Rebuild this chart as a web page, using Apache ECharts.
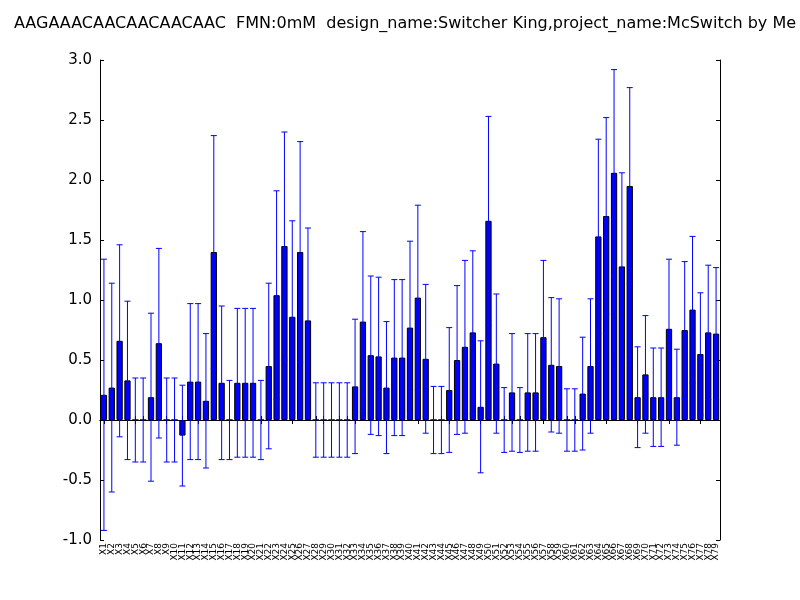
<!DOCTYPE html>
<html><head><meta charset="utf-8">
<script src="https://cdn.jsdelivr.net/npm/echarts@6/dist/echarts.min.js"></script>
<style>body{margin:0;background:#fff;overflow:hidden}#c{width:800px;height:600px}</style>
</head><body><div id="c"></div>
<script>
var titleText = "AAGAAACAACAACAACAAC  FMN:0mM  design_name:Switcher King,project_name:McSwitch by Me";
var values = [0.21,0.27,0.66,0.33,0,0,0.19,0.64,0,0,-0.13,0.32,0.32,0.16,1.40,0.31,0,0.31,0.31,0.31,
  0,0.45,1.04,1.45,0.86,1.40,0.83,0,0,0,0,0,0.28,0.82,0.54,0.53,0.27,0.52,0.52,
  0.77,1.02,0.51,0,0,0.25,0.50,0.61,0.73,0.11,1.66,0.47,0,0.23,0,0.23,0.23,0.69,0.46,0.45,
  0,0,0.22,0.45,1.53,1.70,2.06,1.28,1.95,0.19,0.38,0.19,0.19,0.76,0.19,0.75,0.92,0.55,0.73,0.72];
var errors = [1.13,0.87,0.80,0.66,0.35,0.35,0.70,0.79,0.35,0.35,0.42,0.65,0.65,0.56,0.97,0.64,0.33,0.62,0.62,0.62,
  0.33,0.69,0.87,0.95,0.80,0.92,0.77,0.31,0.31,0.31,0.31,0.31,0.56,0.75,0.66,0.66,0.55,0.65,0.65,
  0.72,0.77,0.62,0.28,0.28,0.52,0.62,0.72,0.68,0.55,0.87,0.58,0.27,0.49,0.27,0.49,0.49,0.64,0.56,0.56,
  0.26,0.26,0.47,0.56,0.81,0.82,0.86,0.78,0.82,0.42,0.49,0.41,0.41,0.58,0.40,0.57,0.61,0.51,0.56,0.55];
var categories = values.map(function(v, i){ return 'X' + (i + 1); });

var chart = echarts.init(document.getElementById('c'));
var errData = values.map(function(v, i){ return [i, v - errors[i], v + errors[i]]; });
var axisLine = {show: true, lineStyle: {color: '#000', width: 1}};
chart.setOption({
  animation: false,
  title: {text: titleText, left: 400, textAlign: 'center', top: 11,
    textStyle: {fontFamily: 'DejaVu Sans', fontWeight: 'normal', fontSize: 16, color: '#000'}},
  grid: {left: 100, right: 80, top: 60, bottom: 60},
  xAxis: [{
    type: 'category', data: categories, boundaryGap: true,
    axisLine: axisLine, axisTick: {show: true, inside: true, alignWithLabel: true, length: 4, lineStyle: {color: '#000'}},
    axisLabel: {rotate: 90, interval: 0, fontSize: 9, fontFamily: 'DejaVu Sans', color: '#000', margin: 3}
  }, {
    type: 'category', data: categories, position: 'top',
    axisLine: axisLine, axisTick: {show: true, inside: true, alignWithLabel: true, length: 4, lineStyle: {color: '#000'}},
    axisLabel: {show: false}
  }],
  yAxis: [{
    type: 'value', min: -1, max: 3, interval: 0.5,
    axisLine: axisLine, axisTick: {show: true, inside: true, length: 4, lineStyle: {color: '#000'}},
    splitLine: {show: false},
    axisLabel: {fontSize: 15, fontFamily: 'DejaVu Sans', color: '#000', formatter: function(v){ return v.toFixed(1); }}
  }, {
    type: 'value', min: -1, max: 3, interval: 0.5, position: 'right',
    axisLine: axisLine, axisTick: {show: true, inside: true, length: 4, lineStyle: {color: '#000'}},
    splitLine: {show: false}, axisLabel: {show: false}
  }],
  series: [{
    type: 'bar', data: values, barCategoryGap: '20%',
    itemStyle: {color: '#0000ff', borderColor: '#000', borderWidth: 1}
  }, {
    type: 'custom', data: errData, z: 10,
    renderItem: function(params, api){
      var lo = api.coord([api.value(0), api.value(1)]);
      var hi = api.coord([api.value(0), api.value(2)]);
      var w = 3;
      var st = {stroke: '#0000ff', lineWidth: 1};
      return {type: 'group', children: [
        {type: 'line', shape: {x1: hi[0], y1: hi[1], x2: lo[0], y2: lo[1]}, style: st},
        {type: 'line', shape: {x1: hi[0]-w, y1: hi[1], x2: hi[0]+w, y2: hi[1]}, style: st},
        {type: 'line', shape: {x1: lo[0]-w, y1: lo[1], x2: lo[0]+w, y2: lo[1]}, style: st}
      ]};
    },
    encode: {x: 0, y: [1, 2]}
  }]
});
</script></body></html>
